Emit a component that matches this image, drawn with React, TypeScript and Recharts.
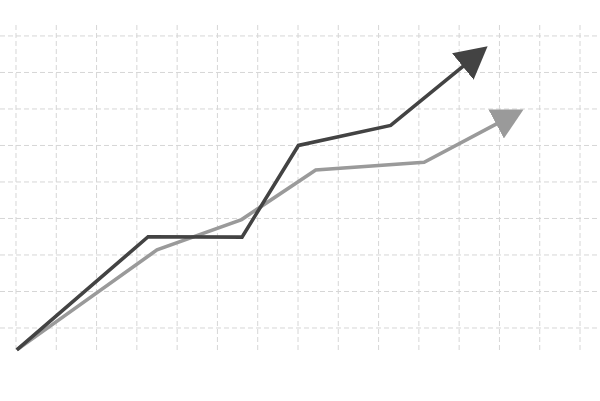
import React from 'react';
import { LineChart, Line, XAxis, YAxis, CartesianGrid } from 'recharts';

const xTicks = [0, 1, 2, 3, 4, 5, 6, 7, 8, 9, 10, 11, 12, 13, 14];
const yTicks = [0, 1, 2, 3, 4, 5, 6, 7, 8];
const xDomain: [number, number] = [-0.397, 14.496];
const yDomain: [number, number] = [-0.685, 8.3];

const darkSeries = [
  { x: 0.02, y: -0.6 },
  { x: 3.28, y: 2.5 },
  { x: 5.61, y: 2.49 },
  { x: 7.01, y: 5.0 },
  { x: 9.3, y: 5.55 },
  { x: 11.11, y: 7.18 },
];

const graySeries = [
  { x: 0.02, y: -0.6 },
  { x: 3.5, y: 2.14 },
  { x: 5.6, y: 2.97 },
  { x: 7.44, y: 4.33 },
  { x: 10.13, y: 4.54 },
  { x: 11.94, y: 5.6 },
];

const DARK = '#434343';
const GRAY = '#9a9a9a';

const vGen = (p: any) => {
  const o = p?.offset || {};
  const left = o.left ?? 0;
  const width = o.width ?? 600;
  return xTicks.map((t) => left + ((t - xDomain[0]) / (xDomain[1] - xDomain[0])) * width);
};
const hGen = (p: any) => {
  const o = p?.offset || {};
  const top = o.top ?? 25;
  const height = o.height ?? 328;
  return yTicks.map((t) => top + ((yDomain[1] - t) / (yDomain[1] - yDomain[0])) * height);
};

export default function App() {
  return (
    <div style={{ position: 'absolute', left: 0, top: 0 }}>
      <LineChart width={600} height={401} margin={{ top: 25, right: 0, bottom: 48, left: 0 }}>
        <defs>
          <marker id="arrowDark" markerUnits="userSpaceOnUse" markerWidth={36} markerHeight={36} refX={1} refY={17} orient="auto">
            <path d="M0,0 L32,17 L0,34 Z" fill={DARK} />
          </marker>
          <marker id="arrowGray" markerUnits="userSpaceOnUse" markerWidth={36} markerHeight={36} refX={1} refY={16.5} orient="auto">
            <path d="M0,0 L31,16.5 L0,33 Z" fill={GRAY} />
          </marker>
        </defs>
        <CartesianGrid
          stroke="#d6d6d6"
          strokeDasharray="5 3"
          strokeWidth={1}
          verticalCoordinatesGenerator={vGen}
          horizontalCoordinatesGenerator={hGen}
        />
        <XAxis type="number" dataKey="x" domain={xDomain} ticks={xTicks} hide allowDataOverflow />
        <YAxis type="number" dataKey="y" domain={yDomain} ticks={yTicks} hide allowDataOverflow />
        <Line
          data={graySeries}
          dataKey="y"
          type="linear"
          stroke={GRAY}
          strokeWidth={3.6}
          dot={false}
          activeDot={false}
          isAnimationActive={false}
          markerEnd="url(#arrowGray)"
        />
        <Line
          data={darkSeries}
          dataKey="y"
          type="linear"
          stroke={DARK}
          strokeWidth={3.6}
          dot={false}
          activeDot={false}
          isAnimationActive={false}
          markerEnd="url(#arrowDark)"
        />
      </LineChart>
    </div>
  );
}
